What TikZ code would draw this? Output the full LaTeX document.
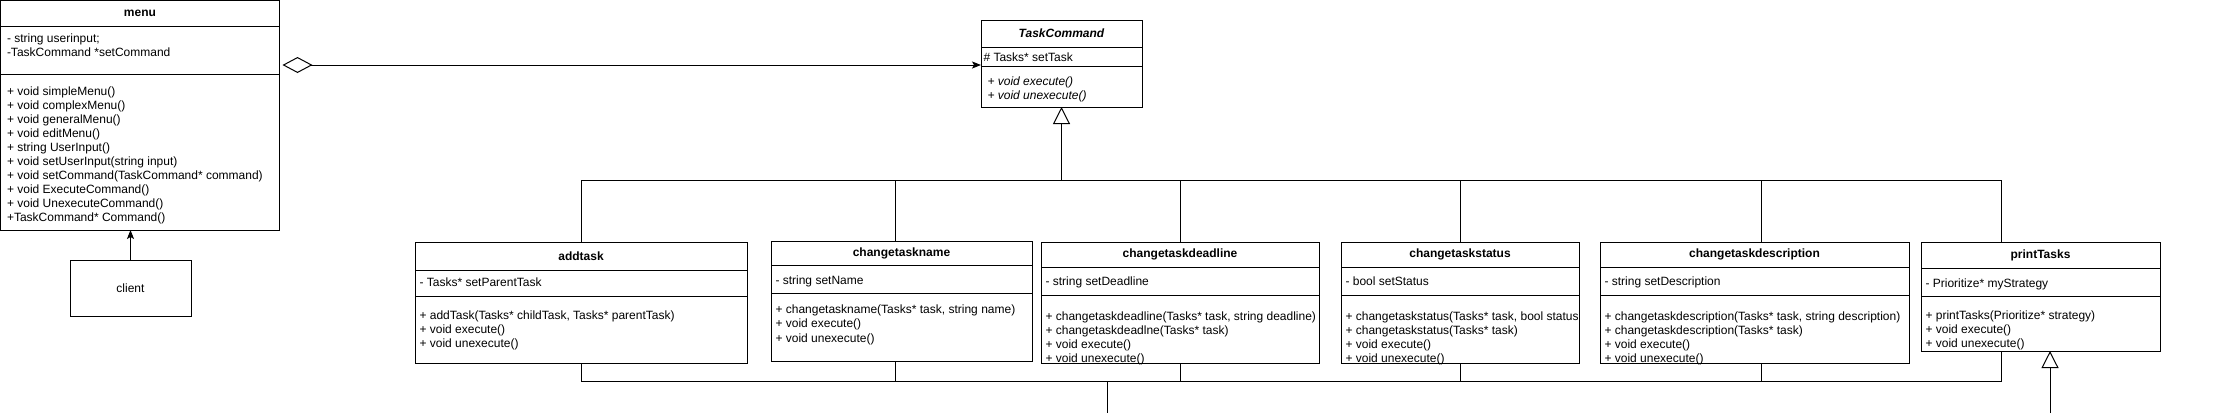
\documentclass[tikz,border=0pt]{standalone}
\usepackage{fontspec}
\setmainfont{Liberation Sans}
\usetikzlibrary{arrows.meta,calc}
\newcommand\umlbox[8]{%
  \node[sect, minimum width=#4, minimum height=#5] (#1) at (#2,#3) {#8};
  \node[sect, minimum width=#4, minimum height=#6] (#1-a) at (#1.south west) {};
  \node[sect, minimum width=#4, minimum height=#7] (#1-m) at (#1-a.south west) {};}
\begin{document}
\begin{tikzpicture}[x=1pt,y=-1pt, line width=1pt,
  sect/.style={draw, line width=1pt, inner sep=0pt, outer sep=0pt, anchor=north west, font=\fontsize{12}{14}\selectfont\bfseries},
  txt/.style={anchor=north west, inner sep=0pt, align=left, execute at begin node=\strut, font=\fontsize{12}{14}\selectfont, yshift=9.8pt},
  txtw/.style={anchor=north west, inner sep=0pt, align=left, execute at begin node=\strut, font=\fontsize{12}{14.5}\selectfont, yshift=10.15pt},
  txti/.style={anchor=north west, inner sep=0pt, align=left, execute at begin node=\strut, font=\fontsize{12}{14}\selectfont\itshape, yshift=9.8pt},
  inh/.style={-{Triangle[open,length=17pt,width=17pt]}},
  assoc/.style={-{Stealth[length=9pt,width=7pt,inset=2pt]}},
  agg/.style={{Diamond[open,length=30pt,width=16pt]}-{Stealth[length=9pt,width=7pt,inset=2pt]}}]
\fill[white] (0,0) rectangle (2227,413);
\useasboundingbox (0,0) rectangle (2227,413);

% menu
\umlbox{menu}{0.5}{0.5}{279}{25.5}{48}{156}{menu}
\node[txt] (menuA) at ($(menu-a.north west)+(6,17)$) {- string userinput;\\-TaskCommand *setCommand};
\node[txt] (menuM) at ($(menu-m.north west)+(6,22)$) {+ void simpleMenu()\\+ void complexMenu()\\+ void generalMenu()\\+ void editMenu()\\+ string UserInput()\\+ void setUserInput(string input)\\+ void setCommand(TaskCommand* command)\\+ void ExecuteCommand()\\+ void UnexecuteCommand()\\+TaskCommand* Command()};

% client
\node[draw, minimum width=121, minimum height=56, anchor=north west, inner sep=0pt, outer sep=0pt, font=\fontsize{12}{14}\selectfont] (client) at (70,260) {client};

% TaskCommand
\node[sect, font=\fontsize{12}{14}\selectfont\bfseries\itshape, minimum width=161, minimum height=27] (tc) at (981,20) {TaskCommand};
\node[sect, minimum width=161, minimum height=19] (tc-a) at (tc.south west) {};
\node[sect, minimum width=161, minimum height=41] (tc-m) at (tc-a.south west) {};
\node[txt] (tcA) at ($(tc-a.north west)+(2,14)$) {\# Tasks* setTask};
\node[txti] (tcM) at ($(tc-m.north west)+(6,20)$) {+ void execute()\\+ void unexecute()};

% children
\umlbox{addtask}{415}{242}{332}{28}{26}{67}{addtask}
\node[txt] (addA) at ($(addtask-a.north west)+(4,16)$) {- Tasks* setParentTask};
\node[txt] (addM) at ($(addtask-m.north west)+(4,24)$) {+ addTask(Tasks* childTask, Tasks* parentTask)\\+ void execute()\\+ void unexecute()};

\umlbox{name}{771}{241}{261}{24}{28}{68}{changetaskname}
\node[txt] (nameA) at ($(name-a.north west)+(4,19)$) {- string setName};
\node[txtw] (nameM) at ($(name-m.north west)+(4,21)$) {+ changetaskname(Tasks* task, string name)\\+ void execute()\\+ void unexecute()};

\umlbox{deadline}{1041}{242}{278}{25}{28}{68}{changetaskdeadline}
\node[txt] (dlA) at ($(deadline-a.north west)+(4,18)$) {- string setDeadline};
\node[txt] (dlM) at ($(deadline-m.north west)+(4,26)$) {+ changetaskdeadline(Tasks* task, string deadline)\\+ changetaskdeadlne(Tasks* task)\\+ void execute()\\+ void unexecute()};

\umlbox{status}{1341}{242}{238}{25}{28}{68}{changetaskstatus}
\node[txt] (stA) at ($(status-a.north west)+(4,18)$) {- bool setStatus};
\node[txt] (stM) at ($(status-m.north west)+(4,26)$) {+ changetaskstatus(Tasks* task, bool status\\+ changetaskstatus(Tasks* task)\\+ void execute()\\+ void unexecute()};

\umlbox{desc}{1600}{242}{309}{25}{28}{68}{changetaskdescription}
\node[txt] (deA) at ($(desc-a.north west)+(4,18)$) {- string setDescription};
\node[txt] (deM) at ($(desc-m.north west)+(4,26)$) {+ changetaskdescription(Tasks* task, string description)\\+ changetaskdescription(Tasks* task)\\+ void execute()\\+ void unexecute()};

\umlbox{print}{1921}{242}{239}{26}{28}{55}{printTasks}
\node[txt] (prA) at ($(print-a.north west)+(4,19)$) {- Prioritize* myStrategy};
\node[txt] (prM) at ($(print-m.north west)+(4,24)$) {+ printTasks(Prioritize* strategy)\\+ void execute()\\+ void unexecute()};

% coordinates
\coordinate (bus) at (0,180);
\coordinate (bus2) at (0,381);
\coordinate (x1) at (581,0);
\coordinate (x2) at (895,0);
\coordinate (x3) at (1180,0);
\coordinate (x4) at (1460,0);
\coordinate (x5) at (1761,0);
\coordinate (x6) at (2001,0);
\coordinate (aggY) at (0,65);
\coordinate (out1) at (1107,413);
\coordinate (out2) at (2050,413);

% connectors
\draw[agg, shorten <=3pt] (menu-a.east |- aggY) -- (tc-a.west |- aggY);
\draw[assoc] (client.north) -- (client.north |- menu-m.south);
\draw[inh] (tc-m.south |- bus) -- (tc-m.south);
\draw (addtask.north -| x1) -- (x1 |- bus) -- (x6 |- bus) -- (print.north -| x6);
\draw (name.north -| x2) -- (x2 |- bus);
\draw (deadline.north -| x3) -- (x3 |- bus);
\draw (status.north -| x4) -- (x4 |- bus);
\draw (desc.north -| x5) -- (x5 |- bus);
\draw (addtask-m.south -| x1) -- (x1 |- bus2) -- (x6 |- bus2) -- (print-m.south -| x6);
\draw (name-m.south -| x2) -- (x2 |- bus2);
\draw (deadline-m.south -| x3) -- (x3 |- bus2);
\draw (status-m.south -| x4) -- (x4 |- bus2);
\draw (desc-m.south -| x5) -- (x5 |- bus2);
\draw (out1 |- bus2) -- (out1);
\draw[inh] (out2) -- (print-m.south -| out2);
\end{tikzpicture}
\end{document}
